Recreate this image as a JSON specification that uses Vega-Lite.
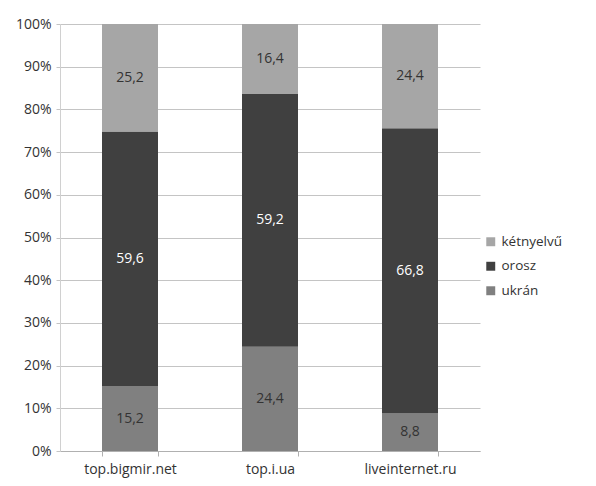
{
  "$schema": "https://vega.github.io/schema/vega-lite/v6.json",
  "autosize": "none",
  "width": 420,
  "height": 427,
  "padding": {"left": 60, "top": 24, "right": 116, "bottom": 35},
  "background": "white",
  "config": {
    "view": {"stroke": null},
    "font": "Open Sans"
  },
  "data": {
    "values": [
      {"site": "top.bigmir.net", "nyelv": "ukrán", "ord": 1, "value": 15.2, "label": "15,2"},
      {"site": "top.bigmir.net", "nyelv": "orosz", "ord": 2, "value": 59.6, "label": "59,6"},
      {"site": "top.bigmir.net", "nyelv": "kétnyelvű", "ord": 3, "value": 25.2, "label": "25,2"},
      {"site": "top.i.ua", "nyelv": "ukrán", "ord": 1, "value": 24.4, "label": "24,4"},
      {"site": "top.i.ua", "nyelv": "orosz", "ord": 2, "value": 59.2, "label": "59,2"},
      {"site": "top.i.ua", "nyelv": "kétnyelvű", "ord": 3, "value": 16.4, "label": "16,4"},
      {"site": "liveinternet.ru", "nyelv": "ukrán", "ord": 1, "value": 8.8, "label": "8,8"},
      {"site": "liveinternet.ru", "nyelv": "orosz", "ord": 2, "value": 66.8, "label": "66,8"},
      {"site": "liveinternet.ru", "nyelv": "kétnyelvű", "ord": 3, "value": 24.4, "label": "24,4"}
    ]
  },
  "transform": [
    {"stack": "value", "groupby": ["site"], "sort": [{"field": "ord", "order": "ascending"}], "as": ["y0", "y1"]},
    {"calculate": "(datum.y0 + datum.y1) / 2", "as": "mid"}
  ],
  "encoding": {
    "x": {
      "field": "site",
      "type": "nominal",
      "sort": ["top.bigmir.net", "top.i.ua", "liveinternet.ru"],
      "scale": {"paddingInner": 0.6, "paddingOuter": 0.3},
      "axis": {
        "title": null,
        "labelAngle": 0,
        "labelFont": "Open Sans",
        "labelFontSize": 14,
        "labelColor": "#333333",
        "labelPadding": 6,
        "domainColor": "#b0b0b0",
        "tickColor": "#b0b0b0",
        "tickBand": "extent",
        "tickSize": 5
      }
    }
  },
  "layer": [
    {
      "mark": {"type": "bar"},
      "encoding": {
        "y": {
          "field": "y0",
          "type": "quantitative",
          "scale": {"domain": [0, 100], "nice": false},
          "axis": {
            "title": null,
            "values": [0, 10, 20, 30, 40, 50, 60, 70, 80, 90, 100],
            "labelExpr": "datum.value + '%'",
            "labelFont": "Open Sans",
            "labelFontSize": 14,
            "labelColor": "#333333",
            "labelPadding": 5,
            "gridColor": "#c4c4c4",
            "domainColor": "#d0d0d0",
            "tickColor": "#c4c4c4",
            "tickSize": 4
          }
        },
        "y2": {"field": "y1"},
        "color": {
          "field": "nyelv",
          "type": "nominal",
          "scale": {"domain": ["kétnyelvű", "orosz", "ukrán"], "range": ["#a6a6a6", "#404040", "#808080"]},
          "legend": {
            "title": null,
            "orient": "none",
            "legendX": 424,
            "legendY": 211,
            "symbolType": "square",
            "symbolSize": 80,
            "symbolStrokeWidth": 0,
            "labelFont": "Open Sans",
            "labelFontSize": 13.5,
            "labelColor": "#333333",
            "rowPadding": 9.5,
            "labelOffset": 4
          }
        }
      }
    },
    {
      "mark": {"type": "text", "font": "Open Sans", "fontSize": 14, "baseline": "middle"},
      "encoding": {
        "y": {"field": "mid", "type": "quantitative"},
        "text": {"field": "label", "type": "nominal"},
        "color": {
          "condition": {"test": "datum.nyelv === 'orosz'", "value": "#ffffff"},
          "value": "#333333"
        }
      }
    }
  ]
}
